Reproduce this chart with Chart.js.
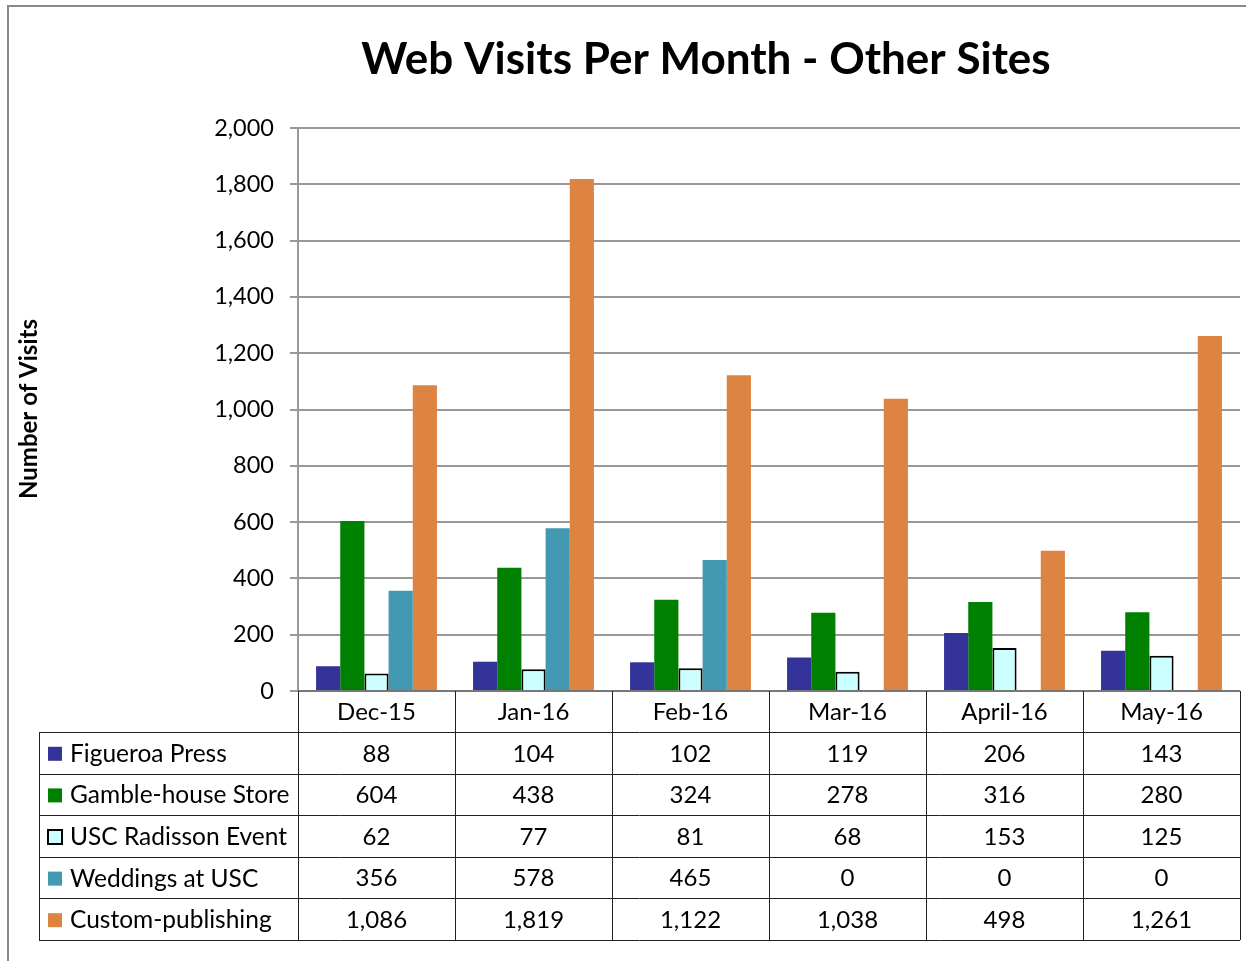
<!DOCTYPE html>
<html>
<head>
<meta charset="utf-8">
<script src="https://cdn.jsdelivr.net/npm/chart.js@4/dist/chart.umd.min.js"></script>
<style>
  html, body { margin: 0; padding: 0; background: #fff; }
  #wrap { position: relative; width: 1246px; height: 961px; }
</style>
</head>
<body>
<div id="wrap"><canvas id="c" width="1246" height="961"></canvas></div>
<script>
const TITLE = 'Web Visits Per Month - Other Sites';
const Y_TITLE = 'Number of Visits';
const categories = ['Dec-15', 'Jan-16', 'Feb-16', 'Mar-16', 'April-16', 'May-16'];
const seriesNames = ['Figueroa Press', 'Gamble-house Store', 'USC Radisson Event', 'Weddings at USC', 'Custom-publishing'];
const figueroa = [88, 104, 102, 119, 206, 143];
const gamble = [604, 438, 324, 278, 316, 280];
const radisson = [62, 77, 81, 68, 153, 125];
const weddings = [356, 578, 465, 0, 0, 0];
const custom = [1086, 1819, 1122, 1038, 498, 1261];
const yTicks = [0, 200, 400, 600, 800, 1000, 1200, 1400, 1600, 1800, 2000];

const FONT = 'Lato, "Open Sans", sans-serif';
const fills = ['#333399', '#008000', '#ccffff', '#4499b2', '#dd8442'];
const borders = ['#333399', '#008000', '#000000', '#4499b2', '#dd8442'];
const borderW = [0, 0, 2, 0, 0];
const seriesData = [figueroa, gamble, radisson, weddings, custom];

const fmt = v => v.toLocaleString('en-US');

const tablePlugin = {
  id: 'dataTable',
  afterDraw(chart) {
    const ctx = chart.ctx;
    const x = chart.scales.x;
    const area = chart.chartArea;
    const n = categories.length;
    const colW = (area.right - area.left) / n;
    const top = area.bottom;
    const headH = 41;
    const rowH = 41.6;
    const leftX = 39;
    const bottom = top + headH + rowH * seriesNames.length;
    ctx.save();
    ctx.strokeStyle = '#222';
    ctx.lineWidth = 1;
    for (let i = 0; i <= n; i++) {
      const xx = Math.round(area.left + i * colW) + 0.5;
      ctx.beginPath();
      ctx.moveTo(xx, top);
      ctx.lineTo(xx, bottom);
      ctx.stroke();
    }
    ctx.beginPath();
    ctx.moveTo(leftX + 0.5, top + headH);
    ctx.lineTo(leftX + 0.5, bottom);
    ctx.stroke();
    for (let r = 0; r <= seriesNames.length; r++) {
      const yy = Math.round(top + headH + r * rowH) + 0.5;
      ctx.beginPath();
      ctx.moveTo(leftX, yy);
      ctx.lineTo(area.right, yy);
      ctx.stroke();
    }
    ctx.fillStyle = '#000';
    ctx.font = '24px ' + FONT;
    ctx.textBaseline = 'middle';
    ctx.textAlign = 'center';
    categories.forEach((c, i) => {
      ctx.fillText(c, x.getPixelForValue(i), top + headH / 2 + 1);
    });
    seriesNames.forEach((s, r) => {
      const cy = top + headH + r * rowH + rowH / 2 + 1;
      const kx = 48, ks = 14;
      ctx.fillStyle = fills[r];
      ctx.fillRect(kx, cy - ks / 2, ks, ks);
      if (borderW[r]) {
        ctx.strokeStyle = borders[r];
        ctx.lineWidth = 2;
        ctx.strokeRect(kx, cy - ks / 2, ks, ks);
      }
      ctx.fillStyle = '#000';
      ctx.textAlign = 'left';
      ctx.font = '24.5px ' + FONT;
      ctx.fillText(s, 70, cy);
      ctx.textAlign = 'center';
      ctx.font = '24px ' + FONT;
      seriesData[r].forEach((v, i) => {
        ctx.fillText(fmt(v), x.getPixelForValue(i), cy);
      });
    });
    ctx.font = 'bold 44px ' + FONT;
    ctx.textAlign = 'center';
    ctx.textBaseline = 'middle';
    ctx.fillText(TITLE, 706, 60);
    ctx.translate(29, 409);
    ctx.rotate(-Math.PI / 2);
    ctx.font = 'bold 24px ' + FONT;
    ctx.fillText(Y_TITLE, 0, 0);
    ctx.restore();
    ctx.save();
    ctx.strokeStyle = '#888';
    ctx.lineWidth = 2;
    ctx.beginPath();
    ctx.moveTo(8, 961);
    ctx.lineTo(8, 6);
    ctx.lineTo(1246, 6);
    ctx.stroke();
    ctx.restore();
  }
};

new Chart(document.getElementById('c'), {
  type: 'bar',
  data: {
    labels: categories,
    datasets: seriesNames.map((name, i) => ({
      label: name,
      data: seriesData[i],
      backgroundColor: fills[i],
      borderColor: borders[i],
      borderWidth: borderW[i],
      borderSkipped: 'bottom',
      barPercentage: 1.0,
      categoryPercentage: 0.77
    }))
  },
  options: {
    responsive: false,
    animation: false,
    layout: { padding: { top: 128, right: 6, bottom: 270, left: 0 } },
    plugins: { legend: { display: false }, title: { display: false }, tooltip: { enabled: false } },
    scales: {
      x: {
        display: false,
        grid: { display: false }
      },
      y: {
        min: 0,
        max: 2000,
        afterBuildTicks(scale) { scale.ticks = yTicks.map(v => ({ value: v })); },
        afterFit(scale) { scale.width = 298; },
        ticks: {
          color: '#000',
          font: { family: FONT, size: 23.5 },
          padding: 16,
          callback: v => fmt(v)
        },
        grid: { color: '#999', lineWidth: 2, tickLength: 8, drawTicks: true },
        border: { color: '#999', width: 2 }
      }
    }
  },
  plugins: [tablePlugin, {
    id: 'xline',
    afterDatasetsDraw(chart) {
      const a = chart.chartArea, ctx = chart.ctx;
      ctx.save();
      ctx.strokeStyle = '#777';
      ctx.lineWidth = 2;
      ctx.beginPath();
      ctx.moveTo(a.left, a.bottom);
      ctx.lineTo(a.right, a.bottom);
      ctx.stroke();
      ctx.restore();
    }
  }]
});
</script>
</body>
</html>
